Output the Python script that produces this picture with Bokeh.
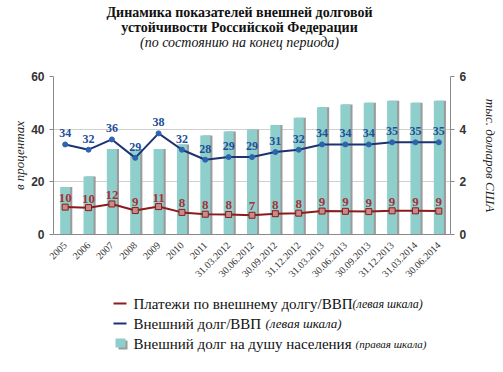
from bokeh.plotting import figure
from bokeh.layouts import column
from bokeh.models import (ColumnDataSource, LinearAxis, Range1d, LabelSet,
                          FixedTicker, FactorRange)
from bokeh.core.properties import value
from bokeh.transform import dodge
from bokeh.embed import file_html
from bokeh.resources import INLINE

# ---- data ----
periods = ["2005", "2006", "2007", "2008", "2009", "2010", "2011",
           "31.03.2012", "30.06.2012", "30.09.2012", "31.12.2012",
           "31.03.2013", "30.06.2013", "30.09.2013", "31.12.2013",
           "31.03.2014", "30.06.2014"]
debt_per_capita = [1.80, 2.20, 3.25, 3.25, 3.25, 3.42, 3.76, 3.91, 3.99, 4.16,
                   4.43, 4.83, 4.94, 5.00, 5.08, 5.00, 5.08]   # тыс. долл. США
debt_to_gdp = [34.2, 32.2, 36.1, 29.1, 38.4, 32.2, 28.4, 29.4, 29.4, 31.3,
               32.2, 34.2, 34.2, 34.2, 35.0, 35.0, 35.0]        # %
payments_to_gdp = [10.4, 10.2, 11.6, 9.1, 10.6, 8.4, 7.7, 7.6, 7.3, 7.9,
                   8.1, 8.9, 8.8, 8.7, 9.0, 9.0, 8.9]           # %
left_ticks = [0, 20, 40, 60]
right_ticks = [0, 2, 4, 6]

title_lines = ["Динамика показателей внешней долговой",
               "устойчивости Российской Федерации",
               "(по состоянию на конец периода)"]
legend_main = ["Платежи по внешнему долгу/ВВП", "Внешний долг/ВВП",
               "Внешний долг на душу населения"]
legend_note = ["(левая шкала)", "(левая шкала)", "(правая шкала)"]

SERIF = "Liberation Serif"
SANS = "Liberation Sans"
BAR = "#8fcfcb"
SHADOW = "#9b9b9b"
RED = "#8c1c1c"
BLUE = "#1c3473"
FL, FW, FR = 53, 397, 50          # frame left, frame width, right border


def blank_fig(h):
    # same horizontal frame as the chart, so x data == page pixels
    f = figure(frame_width=FW, frame_height=h,
               min_border_left=FL, min_border_right=FR,
               min_border_top=0, min_border_bottom=0,
               x_range=Range1d(FL, FL + FW), y_range=Range1d(0, h),
               x_axis_location=None, y_axis_location=None,
               output_backend="svg", toolbar_location=None)
    f.grid.visible = False
    f.outline_line_color = None
    return f


# ---------- title ----------
TH = 62
tf = blank_fig(TH)
tsrc = ColumnDataSource(dict(x=[239, 239], y=[TH - 12, TH - 27], t=title_lines[:2]))
tf.text("x", "y", text="t", source=tsrc, text_align="center", text_baseline="middle",
        text_font=value(SERIF), text_font_style="bold", text_font_size="14px",
        text_color="#111111")
tf.text(x=[239], y=[TH - 42], text=[title_lines[2]], text_align="center",
        text_baseline="middle", text_font=value(SERIF), text_font_style="italic",
        text_font_size="14px", text_color="#111111")

# ---------- main chart ----------
src = ColumnDataSource(dict(
    x=periods, bar=debt_per_capita, blue=debt_to_gdp, red=payments_to_gdp,
    blue_lbl=[f"{v:.0f}" for v in debt_to_gdp],
    red_lbl=[f"{v:.0f}" for v in payments_to_gdp],
))

p = figure(x_range=FactorRange(*periods, range_padding=0), y_range=Range1d(0, 60),
           frame_width=FW, frame_height=158,
           min_border_left=FL, min_border_right=FR, min_border_top=76 - TH,
           min_border_bottom=55,
           output_backend="svg", toolbar_location=None,
           background_fill_color="white", border_fill_color="white")
p.outline_line_color = None
p.extra_y_ranges = {"right": Range1d(0, 6)}

p.vbar(x=dodge("x", 0.09, range=p.x_range), top="bar", width=0.43, source=src,
       y_range_name="right", fill_color=SHADOW, line_color=None)
p.vbar(x="x", top="bar", width=0.43, source=src, y_range_name="right",
       fill_color=BAR, line_color=None)

p.line("x", "red", source=src, line_color=RED, line_width=2)
p.scatter("x", "red", source=src, marker="square", size=6, fill_color="#c98a8a",
          line_color=RED, line_width=1)
p.line("x", "blue", source=src, line_color=BLUE, line_width=2)
p.scatter("x", "blue", source=src, marker="circle", size=5, fill_color="#2f62b0",
          line_color="#2f62b0")

p.add_layout(LabelSet(x="x", y="blue", text="blue_lbl", source=src, y_offset=7,
                      text_align="center", text_baseline="bottom",
                      text_font=SANS, text_font_style="bold", text_font_size="12px",
                      text_color="#1f4e99"))
p.add_layout(LabelSet(x="x", y="red", text="red_lbl", source=src, y_offset=5,
                      text_align="center", text_baseline="bottom",
                      text_font=SERIF, text_font_style="bold", text_font_size="13px",
                      text_color="#a3333a"))

p.yaxis.ticker = FixedTicker(ticks=left_ticks)
p.yaxis.axis_label = "в процентах"
ra = LinearAxis(y_range_name="right", ticker=FixedTicker(ticks=right_ticks),
                axis_label="тыс. долларов США")
p.add_layout(ra, "right")
for ax in (p.yaxis[0], ra):
    ax.axis_line_color = "#8a8a8a"
    ax.major_tick_line_color = "#8a8a8a"
    ax.major_tick_out = 4
    ax.major_tick_in = 0
    ax.minor_tick_line_color = None
    ax.major_label_text_font = SANS
    ax.major_label_text_font_style = "bold"
    ax.major_label_text_font_size = "12px"
    ax.major_label_text_color = "#333333"
    ax.axis_label_text_font = SERIF
    ax.axis_label_text_font_style = "italic"
    ax.axis_label_text_font_size = "13px"
    ax.axis_label_text_color = "#222222"
p.yaxis[0].axis_label_standoff = 1
ra.axis_label_standoff = 14

xa = p.xaxis[0]
xa.major_label_orientation = 0.785
xa.major_label_text_font = SERIF
xa.major_label_text_font_size = "10px"
xa.major_label_text_color = "#333333"
xa.axis_line_color = "#8a8a8a"
xa.major_tick_line_color = None
xa.major_label_standoff = 3

p.xgrid.grid_line_color = None
p.ygrid.ticker = FixedTicker(ticks=left_ticks)
p.ygrid.grid_line_color = "#d0d0d0"

# ---------- legend ----------
LH = 70
lf = blank_fig(LH)
top_off = 76 + 158 + 55           # y of legend figure top in the page
rows = [303, 323, 343]
ys = [LH - (r - top_off) for r in rows]
lf.segment(x0=[113, 113], y0=ys[:2], x1=[126, 126], y1=ys[:2],
           line_color=[RED, BLUE], line_width=2)
lf.quad(left=[118], right=[127], bottom=[ys[2] - 6], top=[ys[2] + 3],
        fill_color=SHADOW, line_color=None)
lf.quad(left=[115], right=[125], bottom=[ys[2] - 4], top=[ys[2] + 5],
        fill_color=BAR, line_color=None)
lf.text(x=[133] * 3, y=ys, text=legend_main, text_baseline="middle",
        text_font=value(SERIF), text_font_size="15px", text_color="#111111")
nsrc = ColumnDataSource(dict(x=[352, 265, 355], y=ys, t=legend_note,
                             fs=["12px", "13px", "11px"]))
lf.text("x", "y", text="t", source=nsrc, text_baseline="middle",
        text_font=value(SERIF), text_font_style="italic",
        text_font_size="fs", text_color="#111111")

layout = column(tf, p, lf, spacing=0)
open("out.html", "w").write(file_html(layout, INLINE))
